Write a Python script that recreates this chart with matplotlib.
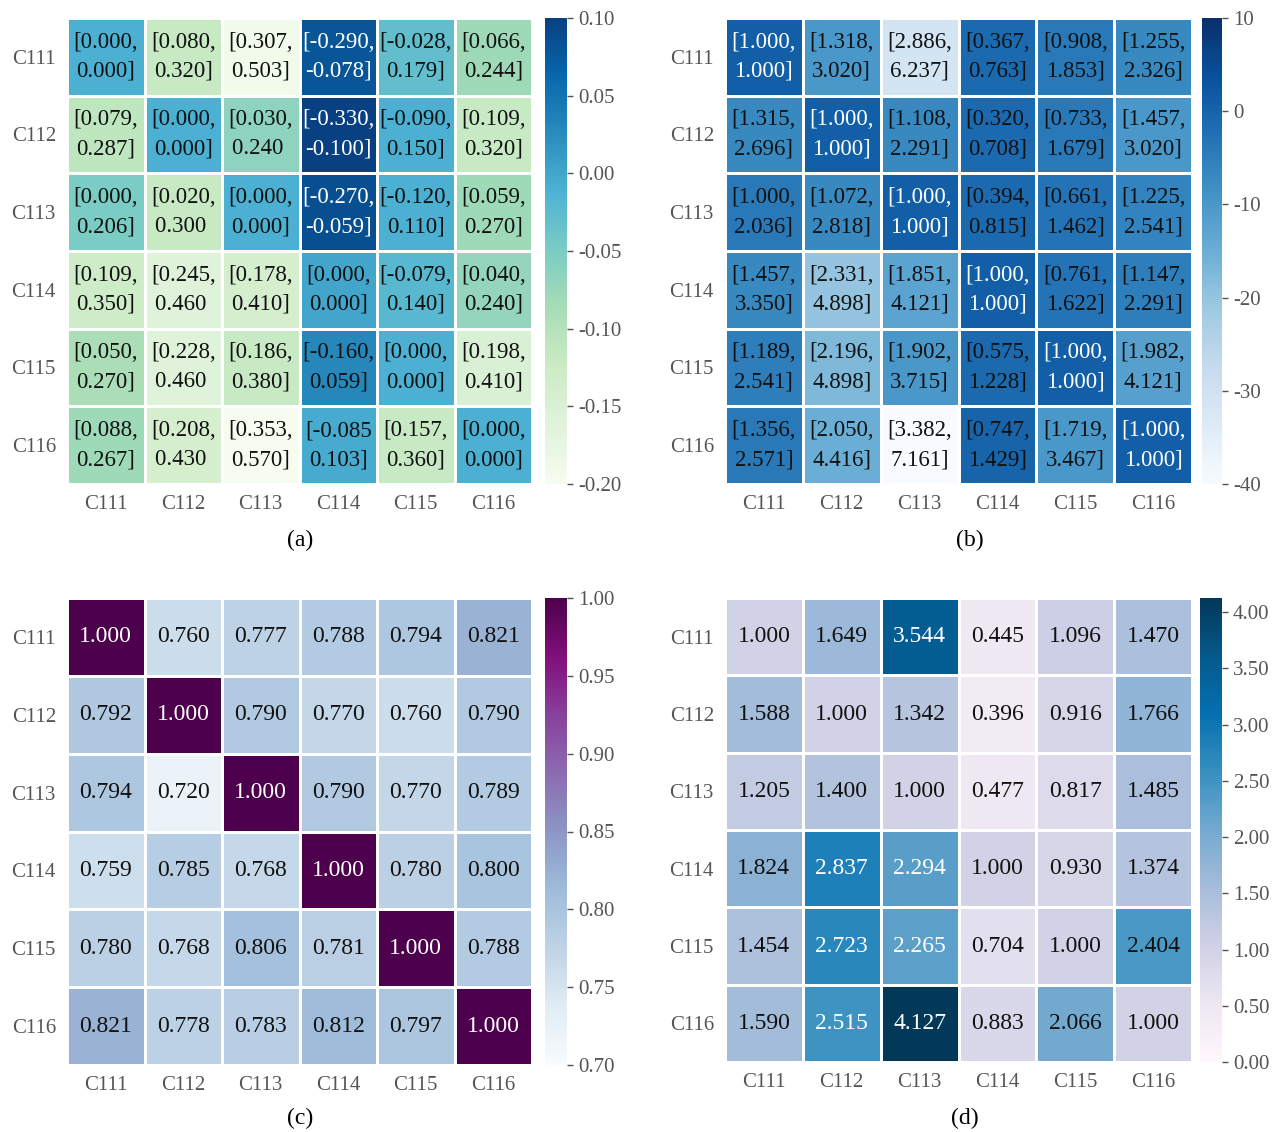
import numpy as np
import matplotlib.pyplot as plt

plt.rcParams['font.family'] = ['Liberation Serif', 'DejaVu Serif']

labels = ['C111', 'C112', 'C113', 'C114', 'C115', 'C116']

# (a) interval annotations + colour values
a_low = [[0.000, 0.080, 0.307, -0.290, -0.028, 0.066],
         [0.079, 0.000, 0.030, -0.330, -0.090, 0.109],
         [0.000, 0.020, 0.000, -0.270, -0.120, 0.059],
         [0.109, 0.245, 0.178, 0.000, -0.079, 0.040],
         [0.050, 0.228, 0.186, -0.160, 0.000, 0.198],
         [0.088, 0.208, 0.353, -0.085, 0.157, 0.000]]
a_high = [[0.000, 0.320, 0.503, -0.078, 0.179, 0.244],
          [0.287, 0.000, 0.240, -0.100, 0.150, 0.320],
          [0.206, 0.300, 0.000, -0.059, 0.110, 0.270],
          [0.350, 0.460, 0.410, 0.000, 0.140, 0.240],
          [0.270, 0.460, 0.380, 0.059, 0.000, 0.410],
          [0.267, 0.430, 0.570, 0.103, 0.360, 0.000]]
a_col = [[-0.01, -0.12, -0.19, 0.08, -0.03, -0.08],
         [-0.11, -0.01, -0.065, 0.10, -0.01, -0.12],
         [-0.05, -0.12, -0.01, 0.085, -0.01, -0.08],
         [-0.13, -0.16, -0.14, 0.0, -0.02, -0.07],
         [-0.09, -0.16, -0.12, 0.03, -0.01, -0.15],
         [-0.08, -0.14, -0.20, -0.005, -0.12, -0.01]]
# broken brackets as printed in the original
a_text = [[None] * 6 for _ in range(6)]
for i in range(6):
    for j in range(6):
        a_text[i][j] = '[%.3f,\n%.3f]' % (a_low[i][j], a_high[i][j])
a_text[1][2] = '[0.030,\n0.240 '
a_text[2][1] = '[0.020,\n0.300 '
a_text[3][1] = '[0.245,\n0.460 '
a_text[4][1] = '[0.228,\n0.460 '
a_text[5][1] = '[0.208,\n0.430 '
a_text[5][3] = '[-0.085\n0.103]'
a_white = [(0, 3), (1, 3), (2, 3)]

# (b)
b_low = [[1.000, 1.318, 2.886, 0.367, 0.908, 1.255],
         [1.315, 1.000, 1.108, 0.320, 0.733, 1.457],
         [1.000, 1.072, 1.000, 0.394, 0.661, 1.225],
         [1.457, 2.331, 1.851, 1.000, 0.761, 1.147],
         [1.189, 2.196, 1.902, 0.575, 1.000, 1.982],
         [1.356, 2.050, 3.382, 0.747, 1.719, 1.000]]
b_high = [[1.000, 3.020, 6.237, 0.763, 1.853, 2.326],
          [2.696, 1.000, 2.291, 0.708, 1.679, 3.020],
          [2.036, 2.818, 1.000, 0.815, 1.462, 2.541],
          [3.350, 4.898, 4.121, 1.000, 1.622, 2.291],
          [2.541, 4.898, 3.715, 1.228, 1.000, 4.121],
          [2.571, 4.416, 7.161, 1.429, 3.467, 1.000]]
b_col = [[1, -10, -31, -1, -4, -7],
         [-7, 1, -7, -1, -4, -10],
         [-4, -7, 1, -1, -3, -6],
         [-7, -20, -12.5, 1, -3, -5],
         [-5, -17.5, -10, -1, 1, -12],
         [-4, -15, -40, 0, -10, 1]]
b_text = [['[%.3f,\n%.3f]' % (b_low[i][j], b_high[i][j]) for j in range(6)] for i in range(6)]
b_white = [(i, i) for i in range(6)]

# (c)
c_val = [[1.000, 0.760, 0.777, 0.788, 0.794, 0.821],
         [0.792, 1.000, 0.790, 0.770, 0.760, 0.790],
         [0.794, 0.720, 1.000, 0.790, 0.770, 0.789],
         [0.759, 0.785, 0.768, 1.000, 0.780, 0.800],
         [0.780, 0.768, 0.806, 0.781, 1.000, 0.788],
         [0.821, 0.778, 0.783, 0.812, 0.797, 1.000]]
c_white = [(i, i) for i in range(6)]

# (d)
d_val = [[1.000, 1.649, 3.544, 0.445, 1.096, 1.470],
         [1.588, 1.000, 1.342, 0.396, 0.916, 1.766],
         [1.205, 1.400, 1.000, 0.477, 0.817, 1.485],
         [1.824, 2.837, 2.294, 1.000, 0.930, 1.374],
         [1.454, 2.723, 2.265, 0.704, 1.000, 2.404],
         [1.590, 2.515, 4.127, 0.883, 2.066, 1.000]]
d_white = [(0, 2), (3, 1), (3, 2), (4, 1), (4, 2), (5, 1), (5, 2)]

W, H = 1274, 1132
fig = plt.figure(figsize=(W / 100, H / 100), dpi=100)


def px(x0, y0, x1, y1):
    return [x0 / W, 1 - y1 / H, (x1 - x0) / W, (y1 - y0) / H]


def panel(box, cbox, vals, texts, white, cmap, vmin, vmax, ticks, tfmt, fs, letter, lpos):
    ax = fig.add_axes(px(*box))
    m = ax.pcolormesh(np.array(vals, dtype=float), cmap=cmap, vmin=vmin, vmax=vmax,
                      edgecolors='white', linewidth=2)
    ax.set_xlim(0, 6)
    ax.set_ylim(6, 0)
    ax.set_xticks(np.arange(6) + 0.5)
    ax.set_yticks(np.arange(6) + 0.5)
    ax.set_xticklabels(labels, fontsize=15, color='#555555')
    ax.set_yticklabels(labels, fontsize=15, color='#555555', rotation=0)
    ax.tick_params(length=0, pad=8)
    for s in ax.spines.values():
        s.set_visible(False)
    for i in range(6):
        for j in range(6):
            col = 'white' if (i, j) in white else '#111111'
            ax.text(j + 0.5, i + 0.5, texts[i][j], ha='center', va='center',
                    fontsize=fs, color=col, linespacing=1.5)
    cax = fig.add_axes(px(*cbox))
    cb = fig.colorbar(m, cax=cax)
    cb.outline.set_visible(False)
    cb.set_ticks(ticks)
    cb.set_ticklabels([tfmt % t for t in ticks])
    cax.tick_params(labelsize=15, colors='#555555', length=4, width=1, pad=4)
    fig.text(lpos[0] / W, 1 - lpos[1] / H, letter, ha='center', va='center', fontsize=17)


panel((67, 18, 532, 484), (545, 18, 567, 484), a_col, a_text, a_white, 'GnBu', -0.2, 0.1,
      [-0.2, -0.15, -0.1, -0.05, 0.0, 0.05, 0.1], '%.2f', 16.5, '(a)', (300, 540))
panel((725, 18, 1192, 484), (1202, 18, 1222, 484), b_col, b_text, b_white, 'Blues', -40, 10,
      [-40, -30, -20, -10, 0, 10], '%d', 16.5, '(b)', (970, 540))
c_text = [['%.3f' % v for v in row] for row in c_val]
panel((67, 598, 532, 1065), (545, 598, 567, 1065), c_val, c_text, c_white, 'BuPu', 0.7, 1.0,
      [0.7, 0.75, 0.8, 0.85, 0.9, 0.95, 1.0], '%.2f', 17, '(c)', (300, 1118))
d_text = [['%.3f' % v for v in row] for row in d_val]
panel((725, 598, 1192, 1062), (1200, 598, 1222, 1062), d_val, d_text, d_white, 'PuBu', 0.0, 4.127,
      [0, 0.5, 1, 1.5, 2, 2.5, 3, 3.5, 4], '%.2f', 17, '(d)', (965, 1118))

fig.savefig('out.png', dpi=100)
